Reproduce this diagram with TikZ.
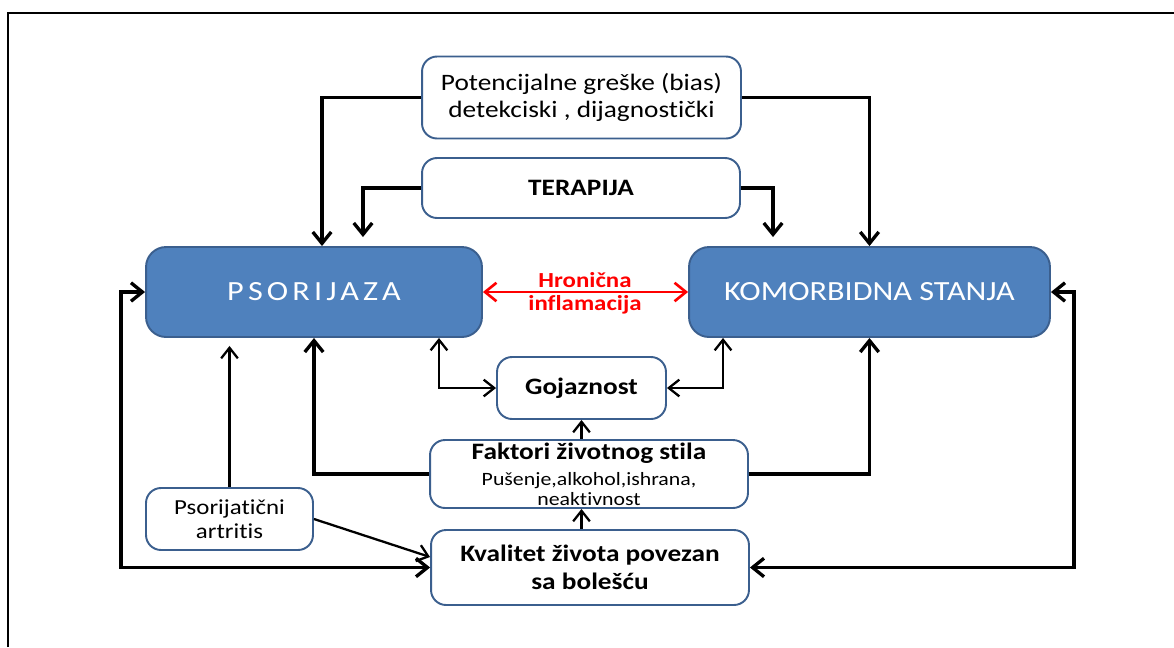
\documentclass[tikz,border=0pt]{standalone}
\usepackage{fontspec}
\setmainfont{Carlito}[FakeStretch=1.16,Ligatures=NoCommon]
\newfontfamily\spacedfont{Carlito}[FakeStretch=1.16,LetterSpace=15]
\usepackage{tikz}
\usetikzlibrary{arrows.meta,calc,positioning}
\definecolor{boxblue}{HTML}{4F81BD}
\definecolor{edgeblue}{HTML}{3B5F8E}
\tikzset{%
	box/.style       = {draw=edgeblue, line width=1.1pt, rectangle, rounded corners=0.3cm, fill=white, inner sep=0pt, text centered, align=center, font=\fontsize{13.4}{15.3}\selectfont},
	boldbox/.style   = {box, font=\fontsize{13.4}{16}\selectfont\bfseries},
	bigbox/.style    = {draw=edgeblue, line width=1.1pt, rectangle, rounded corners=0.4cm, fill=boxblue, text=white, inner sep=0pt, minimum height=1.8cm, font=\fontsize{15.8}{18}\selectfont},
	arrow/.style     = {line width=1.9pt, >={Straight Barb[length=6.5pt,width=10.5pt]}, ->},
	thinarrow/.style = {line width=1.3pt, >={Straight Barb[length=6pt,width=9.5pt]}, ->},
	redarrow/.style  = {red, line width=1.5pt, >={Straight Barb[length=6.5pt,width=10.5pt]}, <->},
}
\begin{document}
\begin{tikzpicture}[x=0.02cm,y=-0.02cm]
	\useasboundingbox (0,0) rectangle (1174,647);
	\draw[line width=1.1pt] (8,647) -- (8,13) -- (1174,13);
	% boxes
	\node[box, minimum width=6.38cm, minimum height=1.64cm] (bias) at (581.5,97.5) {Potencijalne greške (bias)\\detekciski , dijagnostički};
	\node[boldbox, minimum width=6.36cm, minimum height=1.2cm] (terapija) at (581,188) {TERAPIJA};
	\node[bigbox, minimum width=6.72cm, font=\spacedfont\fontsize{15.8}{18}\selectfont] (psor) at (314,292) {PSORIJAZA};
	\node[bigbox, minimum width=7.22cm] (komor) at (869.5,292) {KOMORBIDNA STANJA};
	\node[boldbox, minimum width=3.38cm, minimum height=1.24cm] (gojaz) at (581.5,388) {Gojaznost};
	\node[box, minimum width=6.36cm, minimum height=1.36cm] (faktori) at (589,474) {\textbf{Faktori životnog stila}\\[-0.5pt]\fontsize{10.7}{12}\selectfont Pušenje,alkohol,ishrana,\\[-4pt]\fontsize{10.7}{12}\selectfont neaktivnost};
	\node[boldbox, minimum width=6.36cm, minimum height=1.5cm] (kval) at (590,567.5) {Kvalitet života povezan\\sa bolešću};
	\node[box, minimum width=3.34cm, minimum height=1.24cm, font=\fontsize{12.2}{13.6}\selectfont] (psa) at (229.5,519) {Psorijatični\\artritis};
	\node[text=red, align=center, font=\fontsize{12.2}{13}\selectfont\bfseries] (hron) at (585,293) {Hronična\\inflamacija};
	% connectors
	\draw[arrow] (bias.west) -| ([xshift=0.16cm]psor.north);
	\draw[arrow] (bias.east) -| (komor.north);
	\draw[arrow] (terapija.west) -| ([xshift=0.98cm,yshift=0.18cm]psor.north);
	\draw[arrow] (terapija.east) -| ([xshift=-1.93cm,yshift=0.18cm]komor.north);
	\draw[redarrow] (psor.east) -- (komor.west);
	\draw[thinarrow, <->] ([xshift=2.5cm]psor.south) |- (gojaz.west);
	\draw[thinarrow, <->] ([xshift=-2.93cm]komor.south) |- (gojaz.east);
	\draw[thinarrow] (gojaz.south |- faktori.north) -- (gojaz.south);
	\draw[thinarrow] (gojaz.south |- kval.north) -- (gojaz.south |- faktori.south);
	\draw[arrow] (faktori.west) -| (psor.south);
	\draw[arrow] (faktori.east) -| (komor.south);
	\draw[thinarrow] (psa.north) -- ([yshift=-0.16cm]psa.north |- psor.south);
	\draw[thinarrow] (psa.east) -- ([yshift=0.21cm]kval.west);
	\draw[arrow, <->] (psor.west) -- ++(-24,0) |- (kval.west);
	\draw[arrow, <->] (komor.east) -- ++(23,0) |- (kval.east);
\end{tikzpicture}
\end{document}
